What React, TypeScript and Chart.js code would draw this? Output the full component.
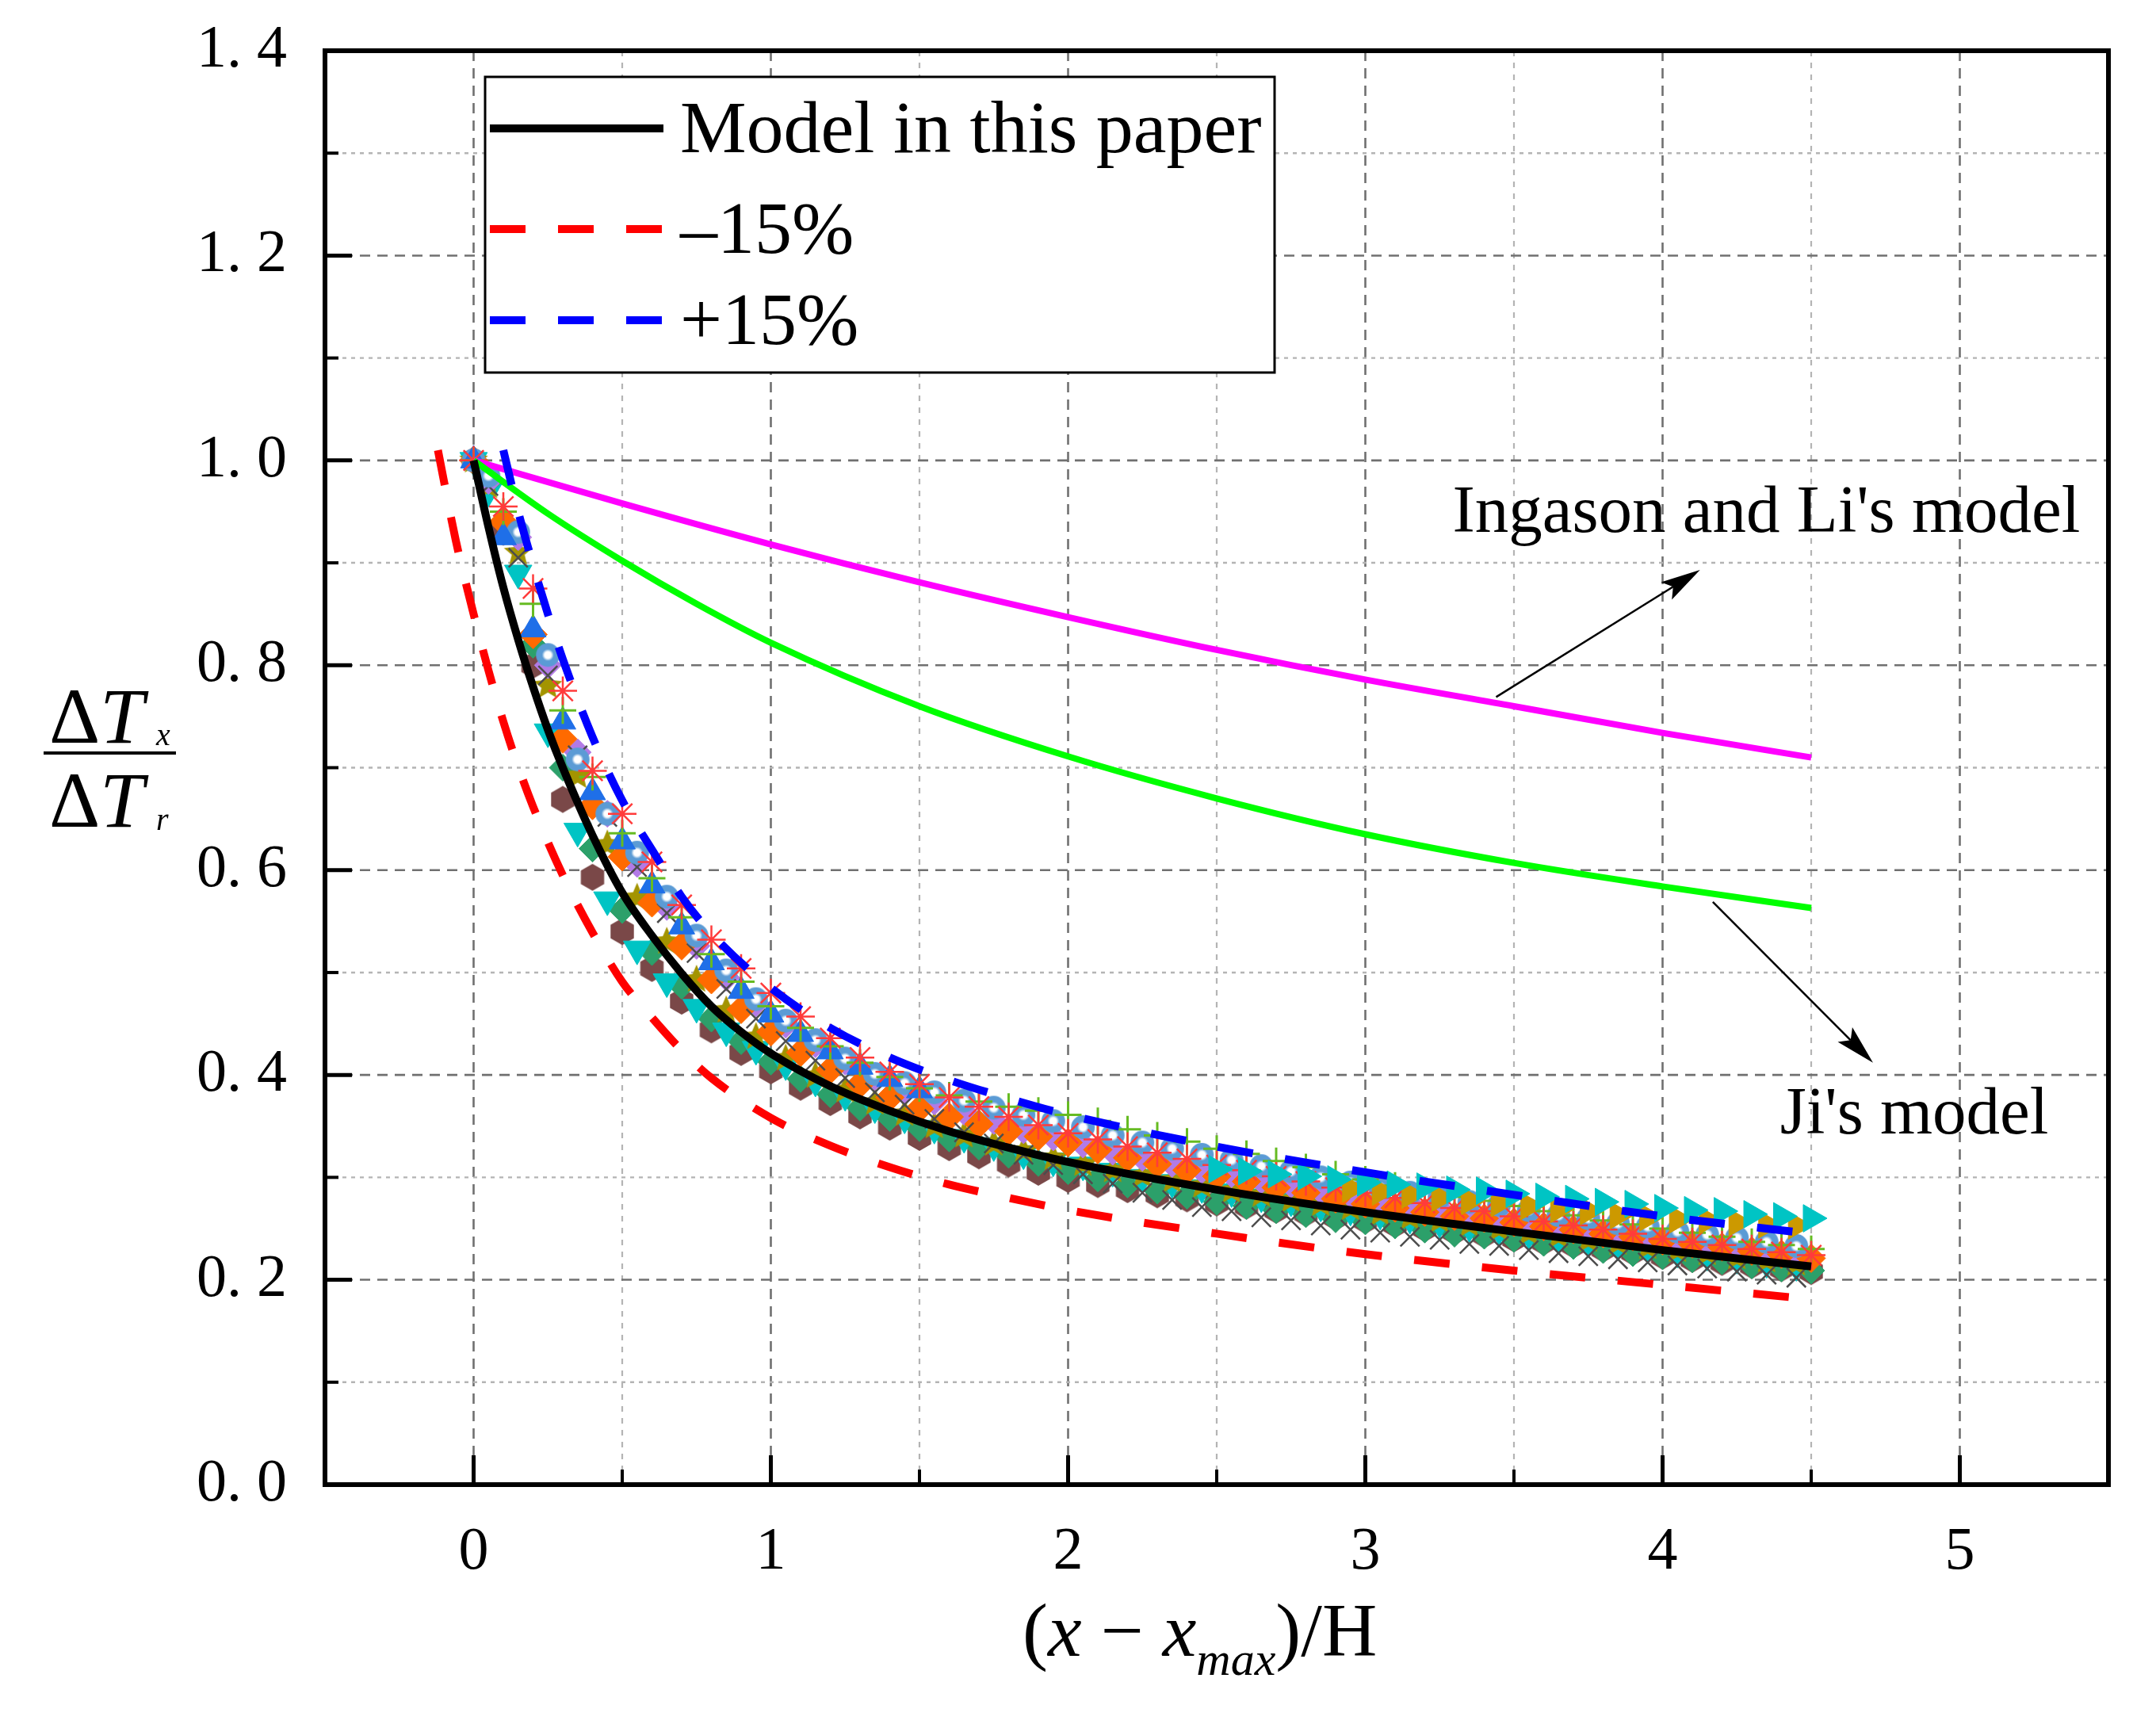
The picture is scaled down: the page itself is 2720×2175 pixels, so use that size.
import { useEffect, useRef } from 'react';
import { Chart, registerables } from 'chart.js';

Chart.register(...registerables);

const W = 2720;
const H = 2175;
const FONT = '"Liberation Serif", "Times New Roman", serif';

// ---- axes ----
const X_TICKS = [0, 1, 2, 3, 4, 5];
const X_MINOR_TICKS = [0.5, 1.5, 2.5, 3.5, 4.5];
const Y_TICKS = [0, 0.2, 0.4, 0.6, 0.8, 1.0, 1.2, 1.4];
const Y_MINOR_TICKS = [0.1, 0.3, 0.5, 0.7, 0.9, 1.1, 1.3];
const X_GRID = [0, 0.5, 1, 1.5, 2, 2.5, 3, 3.5, 4, 4.5, 5];
const Y_GRID = [0.1, 0.2, 0.3, 0.4, 0.5, 0.6, 0.7, 0.8, 0.9, 1.0, 1.1, 1.2, 1.3];

// ---- model curves ----
const MODEL_X = [0, 0.05, 0.1, 0.15, 0.2, 0.25, 0.3, 0.4, 0.5, 0.6, 0.7, 0.8, 0.9, 1.0, 1.2, 1.4, 1.6, 1.8, 2.0, 2.5, 3.0, 3.5, 4.0, 4.5];
const MODEL_Y = [1.000, 0.935, 0.876, 0.825, 0.779, 0.737, 0.700, 0.634, 0.578, 0.536, 0.499, 0.467, 0.442, 0.421, 0.389, 0.365, 0.345, 0.329, 0.315, 0.288, 0.266, 0.247, 0.229, 0.213];

const MINUS_X = [-0.12, -0.06, 0, 0.05, 0.1, 0.15, 0.2, 0.3, 0.4, 0.5, 0.6, 0.7, 0.8, 1.0, 1.2, 1.4, 1.6, 1.8, 2.0, 2.5, 3.0, 3.5, 4.0, 4.5];
const MINUS_Y = [1.010, 0.922, 0.850, 0.795, 0.745, 0.701, 0.662, 0.595, 0.539, 0.491, 0.456, 0.424, 0.397, 0.358, 0.331, 0.310, 0.293, 0.280, 0.268, 0.245, 0.225, 0.209, 0.195, 0.181];

const PLUS_X = [0.1, 0.15, 0.2, 0.25, 0.3, 0.4, 0.5, 0.6, 0.7, 0.8, 1.0, 1.2, 1.4, 1.6, 1.8, 2.0, 2.5, 3.0, 3.5, 4.0, 4.5];
const PLUS_Y = [1.010, 0.950, 0.898, 0.850, 0.806, 0.730, 0.668, 0.620, 0.574, 0.538, 0.485, 0.446, 0.417, 0.395, 0.377, 0.361, 0.330, 0.305, 0.283, 0.262, 0.245];

const ING_X = [0, 0.5, 1, 1.5, 2, 2.5, 3, 3.5, 4, 4.5];
const ING_Y = [1.000, 0.958, 0.918, 0.881, 0.847, 0.815, 0.786, 0.760, 0.734, 0.710];

const JI_X = [0, 0.25, 0.5, 0.75, 1, 1.5, 2, 2.5, 3, 3.5, 4, 4.5];
const JI_Y = [1.000, 0.948, 0.902, 0.860, 0.822, 0.760, 0.711, 0.670, 0.635, 0.607, 0.584, 0.563];

// ---- measured points ----
const X_EVEN = [0, 0.1, 0.2, 0.3, 0.4, 0.5, 0.6, 0.7, 0.8, 0.9, 1, 1.1, 1.2, 1.3, 1.4, 1.5, 1.6, 1.7, 1.8, 1.9, 2, 2.1, 2.2, 2.3, 2.4, 2.5, 2.6, 2.7, 2.8, 2.9, 3, 3.1, 3.2, 3.3, 3.4, 3.5, 3.6, 3.7, 3.8, 3.9, 4, 4.1, 4.2, 4.3, 4.4, 4.5];
const X_ODD = [0, 0.05, 0.15, 0.25, 0.35, 0.45, 0.55, 0.65, 0.75, 0.85, 0.95, 1.05, 1.15, 1.25, 1.35, 1.45, 1.55, 1.65, 1.75, 1.85, 1.95, 2.05, 2.15, 2.25, 2.35, 2.45, 2.55, 2.65, 2.75, 2.85, 2.95, 3.05, 3.15, 3.25, 3.35, 3.45, 3.55, 3.65, 3.75, 3.85, 3.95, 4.05, 4.15, 4.25, 4.35, 4.45];
const X_TAIL = [2.5, 2.6, 2.7, 2.8, 2.9, 3, 3.1, 3.2, 3.3, 3.4, 3.5, 3.6, 3.7, 3.8, 3.9, 4, 4.1, 4.2, 4.3, 4.4, 4.5];
const X_GOLD = [2.95, 3.05, 3.15, 3.25, 3.35, 3.45, 3.55, 3.65, 3.75, 3.85, 3.95, 4.05, 4.15, 4.25, 4.35, 4.45];
const X_BLUE_TRI = [0, 0.1, 0.2, 0.3, 0.4, 0.5, 0.6, 0.7, 0.8, 0.9, 1, 1.1, 1.2, 1.3, 1.4, 1.5];

const RED_STAR = [1.000, 0.955, 0.875, 0.775, 0.697, 0.655, 0.608, 0.566, 0.532, 0.504, 0.480, 0.457, 0.436, 0.417, 0.403, 0.391, 0.378, 0.369, 0.359, 0.351, 0.343, 0.337, 0.330, 0.324, 0.318, 0.312, 0.307, 0.301, 0.296, 0.290, 0.285, 0.280, 0.275, 0.270, 0.267, 0.262, 0.257, 0.253, 0.249, 0.245, 0.240, 0.237, 0.234, 0.230, 0.227, 0.224];
const ORANGE = [1.000, 0.940, 0.830, 0.728, 0.663, 0.613, 0.568, 0.526, 0.493, 0.464, 0.442, 0.422, 0.405, 0.391, 0.378, 0.367, 0.359, 0.352, 0.345, 0.340, 0.334, 0.327, 0.319, 0.313, 0.307, 0.301, 0.296, 0.290, 0.285, 0.279, 0.274, 0.270, 0.266, 0.262, 0.260, 0.256, 0.252, 0.249, 0.245, 0.242, 0.238, 0.235, 0.232, 0.228, 0.225, 0.221];
const BROWN_HEX = [1.000, 0.930, 0.800, 0.669, 0.593, 0.540, 0.504, 0.472, 0.444, 0.422, 0.404, 0.388, 0.373, 0.360, 0.349, 0.339, 0.329, 0.321, 0.313, 0.305, 0.298, 0.293, 0.288, 0.283, 0.279, 0.275, 0.272, 0.268, 0.265, 0.261, 0.258, 0.254, 0.250, 0.247, 0.244, 0.240, 0.237, 0.234, 0.230, 0.227, 0.223, 0.220, 0.217, 0.214, 0.211, 0.208];
const GREEN_PLUS = [1.000, 0.950, 0.860, 0.756, 0.691, 0.636, 0.592, 0.554, 0.518, 0.491, 0.467, 0.446, 0.428, 0.412, 0.398, 0.387, 0.380, 0.374, 0.369, 0.365, 0.361, 0.355, 0.347, 0.341, 0.335, 0.328, 0.323, 0.316, 0.310, 0.303, 0.298, 0.292, 0.287, 0.281, 0.277, 0.272, 0.267, 0.263, 0.258, 0.254, 0.250, 0.246, 0.242, 0.237, 0.234, 0.230];
const DARK_GREEN = [1.000, 0.940, 0.820, 0.700, 0.621, 0.561, 0.520, 0.487, 0.455, 0.433, 0.413, 0.396, 0.381, 0.368, 0.358, 0.348, 0.338, 0.330, 0.322, 0.314, 0.306, 0.299, 0.293, 0.287, 0.282, 0.276, 0.272, 0.268, 0.264, 0.259, 0.257, 0.253, 0.249, 0.245, 0.243, 0.240, 0.236, 0.233, 0.229, 0.226, 0.223, 0.220, 0.218, 0.214, 0.211, 0.209];
const BLUE_BALL = [1.000, 0.985, 0.930, 0.810, 0.708, 0.655, 0.617, 0.574, 0.536, 0.502, 0.474, 0.453, 0.434, 0.416, 0.401, 0.392, 0.383, 0.375, 0.368, 0.361, 0.355, 0.349, 0.341, 0.334, 0.328, 0.322, 0.317, 0.311, 0.306, 0.300, 0.295, 0.290, 0.285, 0.281, 0.276, 0.273, 0.268, 0.263, 0.260, 0.255, 0.252, 0.247, 0.244, 0.241, 0.237, 0.233];
const GRAY_X = [1.000, 0.975, 0.905, 0.790, 0.712, 0.652, 0.603, 0.558, 0.519, 0.484, 0.455, 0.433, 0.414, 0.397, 0.383, 0.371, 0.357, 0.344, 0.333, 0.322, 0.312, 0.303, 0.294, 0.285, 0.278, 0.271, 0.267, 0.261, 0.258, 0.253, 0.249, 0.246, 0.242, 0.239, 0.235, 0.233, 0.229, 0.226, 0.223, 0.220, 0.217, 0.214, 0.211, 0.208, 0.205, 0.202];
const PURPLE = [1.000, 0.980, 0.925, 0.800, 0.715, 0.655, 0.606, 0.564, 0.526, 0.495, 0.470, 0.449, 0.430, 0.413, 0.398, 0.385, 0.374, 0.364, 0.355, 0.346, 0.339, 0.332, 0.325, 0.319, 0.313, 0.307, 0.303, 0.297, 0.293, 0.287, 0.283, 0.278, 0.274, 0.269, 0.265, 0.261, 0.257, 0.253, 0.250, 0.246, 0.243, 0.238, 0.235, 0.232, 0.228, 0.225];
const CYAN_DOWN = [1.000, 0.970, 0.890, 0.735, 0.638, 0.571, 0.523, 0.491, 0.466, 0.443, 0.425, 0.410, 0.394, 0.380, 0.368, 0.358, 0.348, 0.339, 0.331, 0.323, 0.316, 0.312, 0.306, 0.300, 0.295, 0.290, 0.286, 0.281, 0.277, 0.272, 0.268, 0.264, 0.260, 0.256, 0.252, 0.249, 0.245, 0.241, 0.238, 0.234, 0.231, 0.227, 0.224, 0.221, 0.217, 0.214];
const OLIVE_STAR = [1.000, 0.975, 0.910, 0.780, 0.692, 0.625, 0.573, 0.530, 0.493, 0.463, 0.437, 0.416, 0.399, 0.385, 0.373, 0.362, 0.350, 0.341, 0.333, 0.326, 0.319, 0.313, 0.307, 0.302, 0.297, 0.292, 0.287, 0.283, 0.278, 0.274, 0.270, 0.265, 0.261, 0.258, 0.254, 0.250, 0.246, 0.243, 0.239, 0.236, 0.232, 0.229, 0.226, 0.222, 0.219, 0.216];
const CYAN_RIGHT = [0.308, 0.306, 0.303, 0.301, 0.298, 0.295, 0.293, 0.291, 0.288, 0.287, 0.284, 0.281, 0.279, 0.276, 0.274, 0.270, 0.268, 0.267, 0.264, 0.262, 0.260];
const GOLD_RIGHT = [0.289, 0.286, 0.283, 0.280, 0.277, 0.275, 0.272, 0.269, 0.267, 0.263, 0.261, 0.259, 0.258, 0.256, 0.254, 0.253];
const BLUE_TRI = [1.000, 0.925, 0.835, 0.745, 0.676, 0.628, 0.585, 0.545, 0.510, 0.482, 0.459, 0.440, 0.423, 0.408, 0.396, 0.385];

// ---- legend and notes ----
const LEGEND_ITEMS = [
  { label: 'Model in this paper', color: '#000000', dash: [] as number[] },
  { label: '\u201315%', color: '#ff0000', dash: [45, 41] },
  { label: '+15%', color: '#0000ff', dash: [45, 41] },
];
const NOTES = [
  { text: "Ingason and Li's model", x: 3.293, y: 0.93 },
  { text: "Ji's model", x: 4.395, y: 0.343 },
];
const ARROWS = [
  { from: [3.44, 0.769], to: [4.126, 0.893] },
  { from: [4.169, 0.569], to: [4.708, 0.412] },
];

const pts = (xs: number[], ys: number[]) => xs.map((x, i) => ({ x, y: ys[i] }));

function makeCanvas(size: number) {
  const c = document.createElement('canvas');
  c.width = size;
  c.height = size;
  return c;
}

function hexagon(color: string, r: number) {
  const s = Math.ceil(r * 2 + 2);
  const c = makeCanvas(s);
  const g = c.getContext('2d')!;
  g.fillStyle = color;
  g.beginPath();
  for (let k = 0; k < 6; k++) {
    const a = Math.PI / 6 + (k * Math.PI) / 3;
    const px = s / 2 + r * Math.cos(a);
    const py = s / 2 + r * Math.sin(a);
    if (k === 0) g.moveTo(px, py);
    else g.lineTo(px, py);
  }
  g.closePath();
  g.fill();
  return c;
}

function ball(color: string, r: number) {
  const s = Math.ceil(r * 2 + 2);
  const c = makeCanvas(s);
  const g = c.getContext('2d')!;
  const grad = g.createRadialGradient(s / 2, s / 2, 0, s / 2, s / 2, r);
  grad.addColorStop(0, '#ffffff');
  grad.addColorStop(0.28, '#ffffff');
  grad.addColorStop(0.5, color);
  grad.addColorStop(1, color);
  g.fillStyle = grad;
  g.beginPath();
  g.arc(s / 2, s / 2, r, 0, Math.PI * 2);
  g.fill();
  return c;
}

function filledStar(color: string, r: number) {
  const s = Math.ceil(r * 2 + 2);
  const c = makeCanvas(s);
  const g = c.getContext('2d')!;
  g.fillStyle = color;
  g.beginPath();
  for (let k = 0; k < 10; k++) {
    const rr = k % 2 === 0 ? r : r * 0.45;
    const a = -Math.PI / 2 + (k * Math.PI) / 5;
    const px = s / 2 + rr * Math.cos(a);
    const py = s / 2 + rr * Math.sin(a);
    if (k === 0) g.moveTo(px, py);
    else g.lineTo(px, py);
  }
  g.closePath();
  g.fill();
  return c;
}

function markers(label: string, xs: number[], ys: number[], style: any, color: string, radius: number, extra: any = {}) {
  return {
    label,
    data: pts(xs, ys),
    showLine: false,
    pointStyle: style,
    pointRadius: radius,
    pointBackgroundColor: color,
    pointBorderColor: color,
    pointBorderWidth: 1,
    ...extra,
  };
}

function curve(label: string, xs: number[], ys: number[], color: string, width: number, dash: number[] = []) {
  return {
    label,
    data: pts(xs, ys),
    showLine: true,
    pointRadius: 0,
    borderColor: color,
    borderWidth: width,
    borderDash: dash,
    borderCapStyle: 'butt',
    cubicInterpolationMode: 'monotone',
    fill: false,
  };
}

function drawArrow(ctx: CanvasRenderingContext2D, x1: number, y1: number, x2: number, y2: number) {
  const ang = Math.atan2(y2 - y1, x2 - x1);
  const len = 50;
  const half = 13;
  ctx.strokeStyle = '#000';
  ctx.lineWidth = 2.5;
  ctx.setLineDash([]);
  ctx.beginPath();
  ctx.moveTo(x1, y1);
  ctx.lineTo(x2 - Math.cos(ang) * len * 0.8, y2 - Math.sin(ang) * len * 0.8);
  ctx.stroke();
  ctx.fillStyle = '#000';
  ctx.beginPath();
  ctx.moveTo(x2, y2);
  ctx.lineTo(x2 - Math.cos(ang) * len - Math.sin(ang) * half, y2 - Math.sin(ang) * len + Math.cos(ang) * half);
  ctx.lineTo(x2 - Math.cos(ang) * len * 0.8, y2 - Math.sin(ang) * len * 0.8);
  ctx.lineTo(x2 - Math.cos(ang) * len + Math.sin(ang) * half, y2 - Math.sin(ang) * len - Math.cos(ang) * half);
  ctx.closePath();
  ctx.fill();
}

const decorations = {
  id: 'decorations',
  beforeDraw(chart: any) {
    const { ctx } = chart;
    ctx.save();
    ctx.fillStyle = '#ffffff';
    ctx.fillRect(0, 0, chart.width, chart.height);
    ctx.restore();
  },
  beforeDatasetsDraw(chart: any) {
    const { ctx, chartArea: a, scales } = chart;
    const xs = scales.x;
    const ys = scales.y;
    ctx.save();
    for (const v of X_GRID) {
      const px = xs.getPixelForValue(v);
      const major = Number.isInteger(v);
      ctx.strokeStyle = major ? '#707070' : '#b4b4b4';
      ctx.lineWidth = major ? 2.6 : 2.2;
      ctx.setLineDash(major ? [13, 9] : [7, 8]);
      ctx.beginPath();
      ctx.moveTo(px, a.top);
      ctx.lineTo(px, a.bottom);
      ctx.stroke();
    }
    for (const v of Y_GRID) {
      const py = ys.getPixelForValue(v);
      const major = Math.round(v * 10) % 2 === 0;
      ctx.strokeStyle = major ? '#707070' : '#b4b4b4';
      ctx.lineWidth = major ? 2.6 : 2.4;
      ctx.setLineDash(major ? [13, 9] : [5, 6]);
      ctx.beginPath();
      ctx.moveTo(a.left, py);
      ctx.lineTo(a.right, py);
      ctx.stroke();
    }
    ctx.restore();
  },
  afterDatasetsDraw(chart: any) {
    const { ctx, chartArea: a, scales } = chart;
    const xs = scales.x;
    const ys = scales.y;
    ctx.save();
    ctx.setLineDash([]);
    ctx.strokeStyle = '#000';
    // inward ticks
    const tick = (x1: number, y1: number, x2: number, y2: number, w: number) => {
      ctx.lineWidth = w;
      ctx.beginPath();
      ctx.moveTo(x1, y1);
      ctx.lineTo(x2, y2);
      ctx.stroke();
    };
    for (const v of Y_TICKS) {
      const py = ys.getPixelForValue(v);
      tick(a.left, py, a.left + 34, py, 5);
    }
    for (const v of Y_MINOR_TICKS) {
      const py = ys.getPixelForValue(v);
      tick(a.left, py, a.left + 17, py, 4);
    }
    for (const v of X_TICKS) {
      const px = xs.getPixelForValue(v);
      tick(px, a.bottom, px, a.bottom - 37, 5);
    }
    for (const v of X_MINOR_TICKS) {
      const px = xs.getPixelForValue(v);
      tick(px, a.bottom, px, a.bottom - 19, 4);
    }
    // frame
    ctx.lineWidth = 6;
    ctx.strokeRect(a.left, a.top, a.right - a.left, a.bottom - a.top);

    // legend
    const bx = 612, by = 97, bw = 996, bh = 373;
    ctx.fillStyle = '#ffffff';
    ctx.fillRect(bx, by, bw, bh);
    ctx.lineWidth = 3;
    ctx.strokeStyle = '#000';
    ctx.strokeRect(bx, by, bw, bh);
    const rowY = [162, 289, 404];
    LEGEND_ITEMS.forEach((it, i) => {
      const y = rowY[i];
      ctx.strokeStyle = it.color;
      ctx.lineWidth = 10;
      ctx.setLineDash(it.dash);
      ctx.beginPath();
      ctx.moveTo(618, y);
      ctx.lineTo(837, y);
      ctx.stroke();
      ctx.setLineDash([]);
      ctx.fillStyle = '#000';
      ctx.font = `94px ${FONT}`;
      ctx.textAlign = 'left';
      ctx.textBaseline = 'alphabetic';
      ctx.fillText(it.label, 858, y + 30);
    });

    // notes with arrows
    ctx.fillStyle = '#000';
    ctx.font = `85px ${FONT}`;
    for (const n of NOTES) {
      ctx.fillText(n.text, xs.getPixelForValue(n.x), ys.getPixelForValue(n.y));
    }
    for (const ar of ARROWS) {
      drawArrow(
        ctx,
        xs.getPixelForValue(ar.from[0]),
        ys.getPixelForValue(ar.from[1]),
        xs.getPixelForValue(ar.to[0]),
        ys.getPixelForValue(ar.to[1]),
      );
    }

    // x title: (x - x_max)/H
    ctx.fillStyle = '#000';
    let cx = 1290;
    const base = 2089;
    const parts = [
      { t: '(', f: `96px ${FONT}`, dy: 0 },
      { t: 'x', f: `italic 96px ${FONT}`, dy: 0 },
      { t: ' \u2212 ', f: `96px ${FONT}`, dy: 0 },
      { t: 'x', f: `italic 96px ${FONT}`, dy: 0 },
      { t: 'max', f: `italic 60px ${FONT}`, dy: 24 },
      { t: ')/H', f: `96px ${FONT}`, dy: 0 },
    ];
    for (const p of parts) {
      ctx.font = p.f;
      ctx.fillText(p.t, cx, base + p.dy);
      cx += ctx.measureText(p.t).width;
    }

    // y title: fraction dT_x / dT_r
    const frac = (baseY: number, sub: string, subDy: number) => {
      ctx.font = `100px ${FONT}`;
      ctx.fillText('\u0394', 62, baseY);
      ctx.font = `italic 100px ${FONT}`;
      ctx.fillText('T', 126, baseY);
      ctx.font = `italic 40px ${FONT}`;
      ctx.fillText(sub, 197, baseY + subDy);
    };
    frac(937, 'x', 3);
    ctx.fillRect(55, 948, 167, 4);
    frac(1043, 'r', 4);
    ctx.restore();
  },
};

export default function App() {
  const canvasRef = useRef<HTMLCanvasElement>(null);

  useEffect(() => {
    if (!canvasRef.current) return;

    const hex = hexagon('#7a4848', 17);
    const balls = ball('#5b9bd5', 15);
    const star = filledStar('#a39400', 19);

    // drawn bottom to top
    const layers: any[] = [
      markers('Brown hexagon', X_EVEN, BROWN_HEX, hex, '#7a4848', 17),
      markers('Green diamond', X_EVEN, DARK_GREEN, 'rectRot', '#2ca06a', 17),
      markers('Cyan triangle down', X_ODD, CYAN_DOWN, 'triangle', '#00c4c4', 20, { pointRotation: 180 }),
      markers('Olive star', X_ODD, OLIVE_STAR, star, '#a39400', 19),
      markers('Purple diamond', X_ODD, PURPLE, 'rectRot', '#b27ae6', 17),
      markers('Orange diamond', X_EVEN, ORANGE, 'rectRot', '#ff6a00', 18),
      markers('Gray cross', X_ODD, GRAY_X, 'crossRot', '#4d4d4d', 17, { pointBorderWidth: 2.5 }),
      markers('Blue ball', X_ODD, BLUE_BALL, balls, '#5b9bd5', 15),
      markers('Blue triangle', X_BLUE_TRI, BLUE_TRI, 'triangle', '#1f6fe8', 19),
      markers('Green plus', X_EVEN, GREEN_PLUS, 'cross', '#66bb22', 17, { pointBorderWidth: 3 }),
      markers('Red asterisk', X_EVEN, RED_STAR, 'star', '#ff3b3b', 18, { pointBorderWidth: 2.5 }),
      markers('Gold triangle', X_GOLD, GOLD_RIGHT, 'triangle', '#cc9900', 20, { pointRotation: 90 }),
      markers('Cyan triangle', X_TAIL, CYAN_RIGHT, 'triangle', '#00c4c4', 20, { pointRotation: 90 }),
      curve("Ingason and Li's model", ING_X, ING_Y, '#ff00ff', 8),
      curve("Ji's model", JI_X, JI_Y, '#00ff00', 8),
      curve('-15%', MINUS_X, MINUS_Y, '#ff0000', 10, [45, 41]),
      curve('+15%', PLUS_X, PLUS_Y, '#0000ff', 10, [45, 41]),
      curve('Model in this paper', MODEL_X, MODEL_Y, '#000000', 10),
    ];
    const datasets = layers.map((d, i) => ({ ...d, order: layers.length - i }));

    const chart = new Chart(canvasRef.current, {
      type: 'scatter',
      data: { datasets },
      plugins: [decorations],
      options: {
        animation: false,
        responsive: true,
        maintainAspectRatio: false,
        devicePixelRatio: 1,
        events: [],
        layout: { autoPadding: false, padding: { top: 64, right: 60, bottom: 0, left: 0 } },
        plugins: {
          legend: { display: false },
          tooltip: { enabled: false },
        },
        scales: {
          x: {
            type: 'linear',
            min: -0.5,
            max: 5.5,
            grid: { display: false },
            border: { display: false },
            afterBuildTicks: (s: any) => {
              s.ticks = X_TICKS.map((v) => ({ value: v }));
            },
            afterFit: (s: any) => {
              s.height = H - 1873;
              s.paddingLeft = 0;
              s.paddingRight = 0;
            },
            ticks: {
              color: '#000',
              font: { family: FONT, size: 76 },
              padding: 32,
              maxRotation: 0,
              autoSkip: false,
              callback: (v: any) => String(v),
            },
          },
          y: {
            type: 'linear',
            min: 0,
            max: 1.4,
            grid: { display: false },
            border: { display: false },
            afterBuildTicks: (s: any) => {
              s.ticks = Y_TICKS.map((v) => ({ value: v }));
            },
            afterFit: (s: any) => {
              s.width = 410;
              s.paddingTop = 0;
              s.paddingBottom = 0;
            },
            ticks: {
              color: '#000',
              font: { family: FONT, size: 76 },
              padding: 40,
              autoSkip: false,
              callback: (v: any) => Number(v).toFixed(1).replace('.', '. '),
            },
          },
        },
      } as any,
    });

    return () => chart.destroy();
  }, []);

  return (
    <div style={{ position: 'fixed', left: 0, top: 0, width: W, height: H, background: '#ffffff' }}>
      <canvas ref={canvasRef} />
    </div>
  );
}
